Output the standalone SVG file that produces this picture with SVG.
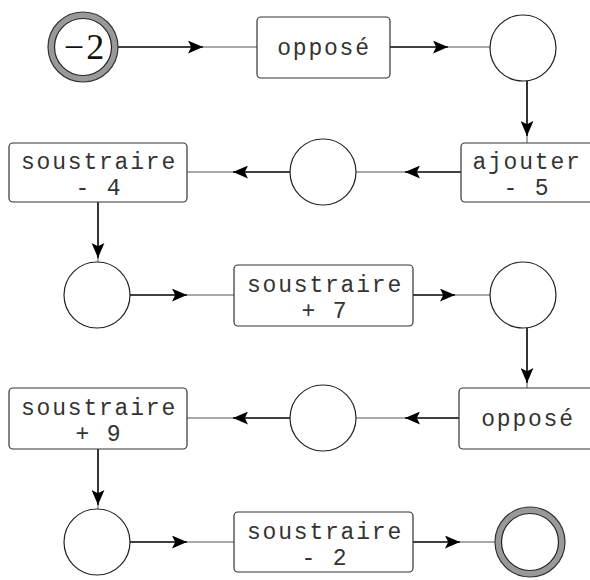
<svg xmlns="http://www.w3.org/2000/svg" width="590" height="580" viewBox="0 0 590 580">
<style>
.box{fill:#fff;stroke:#333;stroke-width:1.2}
.st{fill:#fff;stroke:#222;stroke-width:1.2}
.ring{fill:#999;stroke:#333;stroke-width:1.2}
.t{font-family:"Liberation Mono","Courier New",monospace;font-size:23px;letter-spacing:1.8px;fill:#333;text-anchor:middle}
.n{font-family:"Liberation Serif","Times New Roman",serif;font-size:36px;fill:#111;text-anchor:middle}
.c1{fill:none;stroke:#000;stroke-width:1.6}
.c2{fill:none;stroke:#555;stroke-width:1}
</style>
<defs>
<marker id="ah" viewBox="0 0 14 12" refX="14" refY="6" markerWidth="15" markerHeight="13" markerUnits="userSpaceOnUse" orient="auto">
<path d="M0,0 L14,6 L0,12 L3,6 Z" fill="#000"/>
</marker>
</defs>
<g id="connectors">
<path class="c1" d="M118,47 H203" marker-end="url(#ah)"/><path class="c2" d="M203,47 H257"/>
<path class="c1" d="M390,47 H448" marker-end="url(#ah)"/><path class="c2" d="M448,47 H490"/>
<path class="c1" d="M527,81 V136" marker-end="url(#ah)"/><path class="c2" d="M527,136 V143"/>
<path class="c1" d="M461,172 H405" marker-end="url(#ah)"/><path class="c2" d="M405,172 H356"/>
<path class="c1" d="M290,172 H233" marker-end="url(#ah)"/><path class="c2" d="M233,172 H187"/>
<path class="c1" d="M98,202 V258" marker-end="url(#ah)"/><path class="c2" d="M98,258 V262"/>
<path class="c1" d="M130,295 H187" marker-end="url(#ah)"/><path class="c2" d="M187,295 H234"/>
<path class="c1" d="M413,295 H455" marker-end="url(#ah)"/><path class="c2" d="M455,295 H490"/>
<path class="c1" d="M527,328 V383" marker-end="url(#ah)"/><path class="c2" d="M527,383 V388"/>
<path class="c1" d="M459,418 H405" marker-end="url(#ah)"/><path class="c2" d="M405,418 H356"/>
<path class="c1" d="M290,418 H233" marker-end="url(#ah)"/><path class="c2" d="M233,418 H187"/>
<path class="c1" d="M98,449 V505" marker-end="url(#ah)"/><path class="c2" d="M98,505 V509"/>
<path class="c1" d="M130,542 H187" marker-end="url(#ah)"/><path class="c2" d="M187,542 H234"/>
<path class="c1" d="M413,542 H460" marker-end="url(#ah)"/><path class="c2" d="M460,542 H495"/>
</g>
<g id="start">
<circle class="ring" cx="83" cy="47" r="35"/>
<circle class="st" cx="83" cy="47" r="28.5"/>
<text class="n" x="85" y="59" letter-spacing="2">−2</text>
</g>
<g id="op1"><rect class="box" x="257" y="17" width="133" height="61" rx="4"/><text class="t" x="324" y="55">opposé</text></g>
<g id="s1"><circle class="st" cx="523" cy="48" r="33"/></g>
<g id="aj5"><rect class="box" x="461" y="143" width="140" height="59" rx="4"/><text class="t" x="527" y="169">ajouter</text><text class="t" x="527" y="195">- 5</text></g>
<g id="s2"><circle class="st" cx="323" cy="172" r="33"/></g>
<g id="so4"><rect class="box" x="9" y="143" width="178" height="59" rx="4"/><text class="t" x="99" y="169">soustraire</text><text class="t" x="99" y="195">- 4</text></g>
<g id="s3"><circle class="st" cx="97" cy="295" r="33"/></g>
<g id="so7"><rect class="box" x="234" y="265" width="179" height="61" rx="4"/><text class="t" x="325" y="292">soustraire</text><text class="t" x="325" y="318">+ 7</text></g>
<g id="s4"><circle class="st" cx="523" cy="295" r="33"/></g>
<g id="op2"><rect class="box" x="459" y="388" width="142" height="61" rx="4"/><text class="t" x="528" y="426">opposé</text></g>
<g id="s5"><circle class="st" cx="323" cy="418" r="33"/></g>
<g id="so9"><rect class="box" x="9" y="388" width="178" height="61" rx="4"/><text class="t" x="99" y="415">soustraire</text><text class="t" x="99" y="441">+ 9</text></g>
<g id="s6"><circle class="st" cx="97" cy="542" r="33"/></g>
<g id="so2"><rect class="box" x="234" y="512" width="179" height="60" rx="4"/><text class="t" x="325" y="539">soustraire</text><text class="t" x="325" y="565">- 2</text></g>
<g id="end">
<circle class="ring" cx="530" cy="542" r="35"/>
<circle class="st" cx="530" cy="542" r="28.5"/>
</g>
</svg>
